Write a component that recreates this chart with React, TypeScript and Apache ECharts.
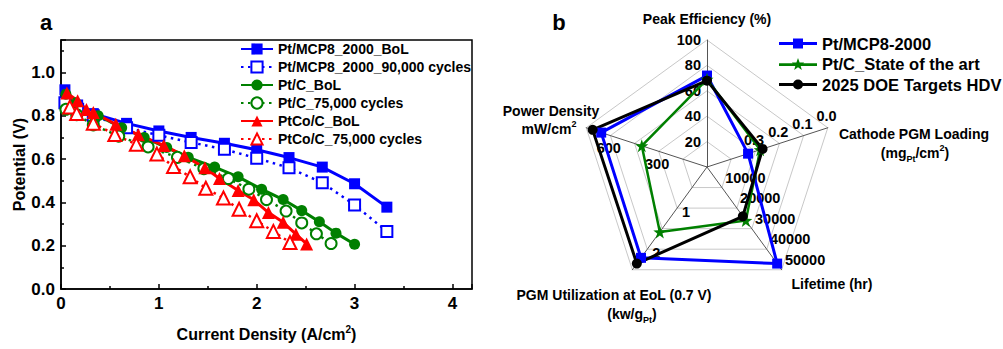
import React, { useEffect, useRef } from 'react';
import * as echarts from 'echarts';

const FONT = '"Liberation Sans", Arial, Helvetica, sans-serif';
const BLUE = '#0000ff';
const GREEN = '#008000';
const RED = '#ff0000';
const BLACK = '#000000';

// ---- Polarization curves: current density (A/cm2) and potential (V) ----
const mcpBolJ = [0.04, 0.17, 0.33, 0.67, 1.0, 1.33, 1.67, 2.0, 2.33, 2.67, 3.0, 3.33];
const mcpBolV = [0.92, 0.85, 0.81, 0.765, 0.73, 0.70, 0.673, 0.643, 0.607, 0.563, 0.486, 0.378];

const mcpAgedJ = [0.04, 0.17, 0.33, 0.67, 1.0, 1.33, 1.67, 2.0, 2.33, 2.67, 3.0, 3.33];
const mcpAgedV = [0.86, 0.83, 0.80, 0.745, 0.71, 0.677, 0.645, 0.604, 0.56, 0.491, 0.388, 0.266];

const ptcBolJ = [0.05, 0.15, 0.38, 0.62, 0.85, 1.08, 1.30, 1.57, 1.81, 2.05, 2.27, 2.46, 2.64, 2.81, 3.0];
const ptcBolV = [0.90, 0.86, 0.80, 0.745, 0.70, 0.653, 0.608, 0.563, 0.518, 0.461, 0.413, 0.362, 0.311, 0.258, 0.207];

const ptcAgedJ = [0.05, 0.16, 0.33, 0.59, 0.89, 1.19, 1.46, 1.71, 1.92, 2.10, 2.30, 2.46, 2.61, 2.76];
const ptcAgedV = [0.83, 0.805, 0.758, 0.706, 0.656, 0.608, 0.556, 0.51, 0.461, 0.413, 0.36, 0.305, 0.255, 0.21];

const ptcoBolJ = [0.06, 0.17, 0.26, 0.33, 0.56, 0.79, 1.05, 1.26, 1.47, 1.62, 1.81, 1.97, 2.12, 2.27, 2.40, 2.51];
const ptcoBolV = [0.905, 0.87, 0.829, 0.815, 0.761, 0.712, 0.663, 0.615, 0.56, 0.51, 0.455, 0.412, 0.353, 0.308, 0.253, 0.208];

const ptcoAgedJ = [0.09, 0.16, 0.33, 0.55, 0.77, 0.98, 1.15, 1.32, 1.48, 1.66, 1.82, 2.0, 2.17, 2.34];
const ptcoAgedV = [0.84, 0.81, 0.766, 0.713, 0.668, 0.623, 0.566, 0.518, 0.465, 0.42, 0.368, 0.315, 0.266, 0.215];

const curveNames = [
  'Pt/MCP8_2000_BoL',
  'Pt/MCP8_2000_90,000 cycles',
  'Pt/C_BoL',
  'Pt/C_75,000 cycles',
  'PtCo/C_BoL',
  'PtCo/C_75,000 cycles',
];

// ---- Radar: one value per catalyst, order = radarNames ----
const radarNames = ['Pt/MCP8-2000', 'Pt/C_State of the art', '2025 DOE Targets HDV'];
const peakEfficiency = [72, 69, 68]; // %
const powerDensity = [657, 405, 710]; // mW/cm2
const pgmUtilization = [2.21, 1.58, 2.35]; // kW/gPt
const lifetime = [47000, 26000, 24000]; // hr
const cathodeLoading = [0.33, 0.28, 0.27]; // mgPt/cm2 (axis runs from 0.5 at centre to 0.0 outside)

const peakTicks = [20, 40, 60, 80, 100];
const powerTicks = [300, 600];
const pgmTicks = [1, 2];
const lifetimeTicks = [10000, 20000, 30000, 40000, 50000];
const cathodeTicks = [0.3, 0.2, 0.1, 0.0];

const CATHODE_MAX = 0.5;

const pair = (xs: number[], ys: number[]) => xs.map((x, i) => [x, ys[i]]);

const starPath = (cx: number, cy: number, R: number, r: number) => {
  const pts: string[] = [];
  for (let i = 0; i < 10; i++) {
    const a = ((-90 + i * 36) * Math.PI) / 180;
    const rad = i % 2 === 0 ? R : r;
    pts.push(`${(cx + rad * Math.cos(a)).toFixed(2)},${(cy + rad * Math.sin(a)).toFixed(2)}`);
  }
  return 'M' + pts.join('L') + 'Z';
};

const STAR = 'path://' + starPath(10, 10, 10, 4);
const LEGEND_LINE = 'M0,4.6H38V7.4H0Z';
const legendIcons = [
  'path://' + LEGEND_LINE + 'M14,1H24V11H14Z',
  'path://' + LEGEND_LINE + starPath(19, 6, 6.5, 2.7),
  'path://' + LEGEND_LINE + 'M14,6A5,5 0 1 1 24,6A5,5 0 1 1 14,6Z',
];
const radarColors = [BLUE, GREEN, BLACK];
const radarSymbols = ['rect', STAR, 'circle'];
const radarSymbolSizes = [10, 13, 10];
const radarLineWidths = [3, 2.5, 3];

const near = (v: number, list: number[]) => list.some((t) => Math.abs(t - v) < 1e-6);

const curves = [
  { name: curveNames[0], color: BLUE, dotted: false, symbol: 'rect', size: 11, data: pair(mcpBolJ, mcpBolV) },
  { name: curveNames[1], color: BLUE, dotted: true, symbol: 'emptyRect', size: 11, data: pair(mcpAgedJ, mcpAgedV) },
  { name: curveNames[2], color: GREEN, dotted: false, symbol: 'circle', size: 11, data: pair(ptcBolJ, ptcBolV) },
  { name: curveNames[3], color: GREEN, dotted: true, symbol: 'emptyCircle', size: 11, data: pair(ptcAgedJ, ptcAgedV) },
  { name: curveNames[4], color: RED, dotted: false, symbol: 'triangle', size: 13, data: pair(ptcoBolJ, ptcoBolV) },
  { name: curveNames[5], color: RED, dotted: true, symbol: 'emptyTriangle', size: 13, data: pair(ptcoAgedJ, ptcoAgedV) },
];

const labelText = (text: string, x: number, y: number, size = 14) => ({
  type: 'text',
  x,
  y,
  silent: true,
  style: {
    text,
    fill: '#000',
    fontSize: size,
    fontWeight: 'bold',
    fontFamily: FONT,
    align: 'center',
    verticalAlign: 'middle',
    textAlign: 'center',
    textVerticalAlign: 'middle',
    lineHeight: 20,
    rich: {
      sub: { fontSize: 9, fontWeight: 'bold', fontFamily: FONT, verticalAlign: 'bottom', lineHeight: 12 },
      sup: { fontSize: 9, fontWeight: 'bold', fontFamily: FONT, verticalAlign: 'top', lineHeight: 12 },
    },
  },
});

export default function App() {
  const ref = useRef<HTMLDivElement>(null);

  useEffect(() => {
    if (!ref.current) return;
    const chart = echarts.init(ref.current, null, { renderer: 'svg' });

    const tickStyle = { color: '#000', width: 1.5 };

    const option: any = {
      animation: false,
      backgroundColor: '#fff',
      textStyle: { fontFamily: FONT },
      grid: {
        left: 61,
        right: 531,
        top: 40,
        bottom: 54,
        show: true,
        borderColor: '#000',
        borderWidth: 1.5,
      },
      xAxis: {
        type: 'value',
        min: 0,
        max: 4.2,
        interval: 1,
        name: 'Current Density (A/cm{sup|2})',
        nameLocation: 'middle',
        nameGap: 35,
        nameTextStyle: {
          fontSize: 16,
          fontWeight: 'bold',
          color: '#000',
          fontFamily: FONT,
          lineHeight: 20,
          rich: { sup: { fontSize: 10, fontWeight: 'bold', fontFamily: FONT, verticalAlign: 'top', lineHeight: 12 } },
        },
        axisLine: { lineStyle: tickStyle },
        axisTick: { inside: true, length: 5, lineStyle: tickStyle },
        minorTick: { show: true, splitNumber: 2, length: 3, lineStyle: tickStyle },
        splitLine: { show: false },
        axisLabel: {
          showMaxLabel: false,
          margin: 6,
          fontSize: 17,
          fontWeight: 'bold',
          color: '#000',
          fontFamily: FONT,
        },
      },
      yAxis: {
        type: 'value',
        min: 0,
        max: 1.15,
        interval: 0.2,
        name: 'Potential (V)',
        nameLocation: 'middle',
        nameGap: 34,
        nameTextStyle: { fontSize: 16, fontWeight: 'bold', color: '#000', fontFamily: FONT },
        axisLine: { lineStyle: tickStyle },
        axisTick: { inside: true, length: 5, lineStyle: tickStyle },
        minorTick: { show: true, splitNumber: 2, length: 3, lineStyle: tickStyle },
        splitLine: { show: false },
        axisLabel: {
          showMaxLabel: false,
          margin: 6,
          fontSize: 17,
          fontWeight: 'bold',
          color: '#000',
          fontFamily: FONT,
          formatter: (v: number) => v.toFixed(1),
        },
      },
      legend: [
        {
          data: curveNames,
          orient: 'vertical',
          left: 240,
          top: 42,
          padding: 0,
          itemWidth: 32,
          itemHeight: 14,
          itemGap: 4,
          selectedMode: false,
          textStyle: { fontSize: 14, fontWeight: 'bold', color: '#000', fontFamily: FONT },
        },
        {
          data: radarNames.map((n, i) => ({ name: n, icon: legendIcons[i] })),
          orient: 'vertical',
          left: 779,
          top: 35,
          padding: 0,
          itemWidth: 38,
          itemHeight: 14,
          itemGap: 3.5,
          selectedMode: false,
          textStyle: { fontSize: 16.5, fontWeight: 'bold', color: '#000', fontFamily: FONT },
        },
      ],
      radar: {
        center: [707, 167],
        radius: 127,
        startAngle: 90,
        splitNumber: 5,
        shape: 'polygon',
        axisName: { show: false },
        splitLine: { lineStyle: { color: '#c8c8c8', width: 1 } },
        splitArea: { show: false },
        axisLine: { lineStyle: { color: '#555', width: 1 } },
        axisTick: { show: false },
        axisLabel: {
          show: true,
          color: '#000',
          fontSize: 14.5,
          fontWeight: 'bold',
          fontFamily: FONT,
          margin: 6,
        },
        indicator: [
          {
            name: 'Peak Efficiency (%)',
            min: 0,
            max: 100,
            axisLabel: { formatter: (v: number) => (near(v, peakTicks) ? String(Math.round(v)) : '') },
          },
          {
            name: 'Power Density',
            min: 0,
            max: 750,
            axisLabel: {
              align: 'center',
              verticalAlign: 'top',
              margin: 5,
              formatter: (v: number) => (near(v, powerTicks) ? String(Math.round(v)) : ''),
            },
          },
          {
            name: 'PGM Utilization at EoL (0.7 V)',
            min: 0,
            max: 2.5,
            axisLabel: { formatter: (v: number) => (near(v, pgmTicks) ? String(Math.round(v)) : '') },
          },
          {
            name: 'Lifetime (hr)',
            min: 0,
            max: 50000,
            axisLabel: {
              align: 'left',
              verticalAlign: 'bottom',
              margin: 4,
              formatter: (v: number) => (near(v, lifetimeTicks) ? String(Math.round(v)) : ''),
            },
          },
          {
            name: 'Cathode PGM Loading',
            min: 0,
            max: CATHODE_MAX,
            axisLabel: {
              align: 'center',
              verticalAlign: 'bottom',
              margin: 4,
              formatter: (v: number) => {
                const load = CATHODE_MAX - v;
                return near(load, cathodeTicks) ? Math.abs(load).toFixed(1) : '';
              },
            },
          },
        ],
      },
      series: [
        ...curves.map((c) => ({
          type: 'line',
          name: c.name,
          data: c.data,
          symbol: c.symbol,
          symbolSize: c.size,
          showSymbol: true,
          z: 3,
          lineStyle: { color: c.color, width: c.dotted ? 2.5 : 3, type: c.dotted ? [2.5, 4.5] : 'solid' },
          itemStyle: { color: c.color, borderColor: c.color, borderWidth: c.dotted ? 1.4 : 0 },
          emphasis: { disabled: true },
        })),
        {
          type: 'radar',
          emphasis: { disabled: true },
          data: radarNames.map((n, i) => ({
            name: n,
            value: [
              peakEfficiency[i],
              powerDensity[i],
              pgmUtilization[i],
              lifetime[i],
              CATHODE_MAX - cathodeLoading[i],
            ],
            symbol: radarSymbols[i],
            symbolSize: radarSymbolSizes[i],
            lineStyle: { color: radarColors[i], width: radarLineWidths[i] },
            itemStyle: { color: radarColors[i] },
          })),
        },
      ],
      graphic: [
        labelText('a', 46, 22, 22),
        labelText('b', 559, 22, 22),
        labelText('Peak Efficiency (%)', 707, 19),
        labelText('Power Density', 551, 111),
        labelText('mW/cm{sup|2}', 549, 129),
        labelText('Cathode PGM Loading', 914, 134),
        labelText('(mg{sub|Pt}/cm{sup|2})', 915, 153),
        labelText('Lifetime (hr)', 832, 284),
        labelText('PGM Utilization at EoL (0.7 V)', 614, 295),
        labelText('(kw/g{sub|Pt})', 632, 314),
      ],
    };

    chart.setOption(option);
    return () => chart.dispose();
  }, []);

  return (
    <div
      ref={ref}
      style={{ position: 'fixed', left: 0, top: 0, width: 1003, height: 349, background: '#fff' }}
    />
  );
}
